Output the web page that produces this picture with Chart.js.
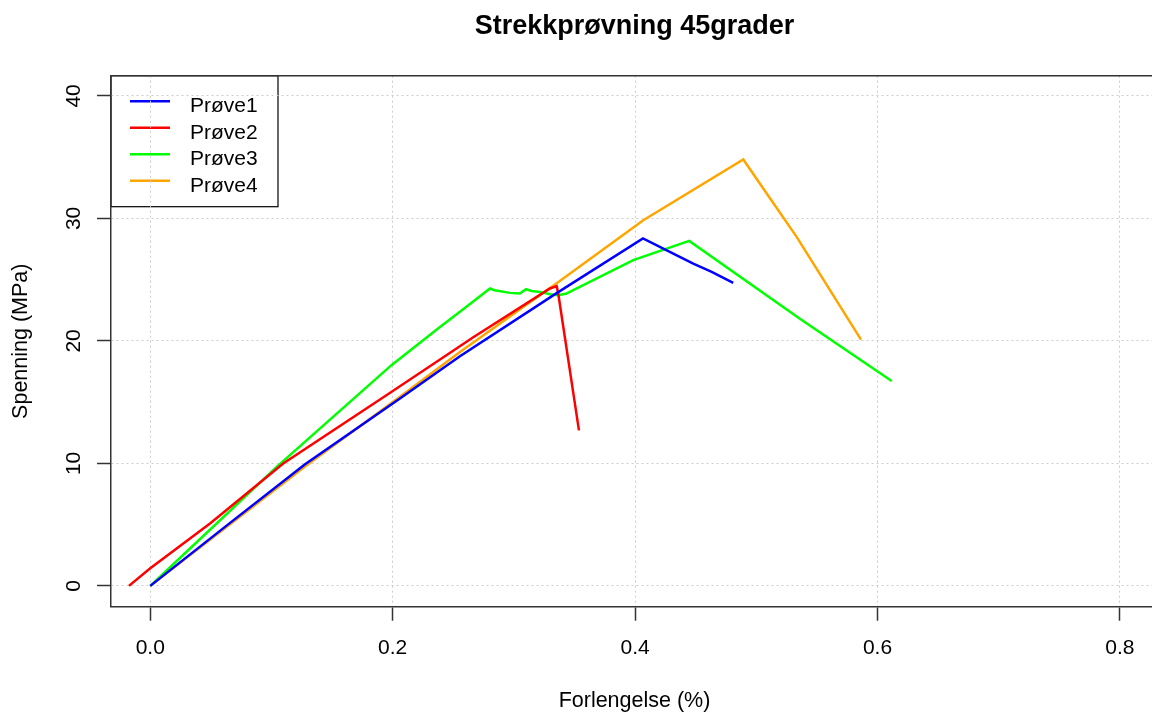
<!DOCTYPE html>
<html>
<head>
<meta charset="utf-8">
<script src="https://cdn.jsdelivr.net/npm/chart.js@4.4.0/dist/chart.umd.min.js"></script>
<style>
html,body{margin:0;padding:0;background:#fff;}
#wrap{width:1152px;height:716px;}
</style>
</head>
<body>
<div id="wrap"><canvas id="c" width="1152" height="716"></canvas></div>
<script>
// labels / ticks
const chartTitle = 'Strekkprøvning 45grader';
const xLabel = 'Forlengelse (%)';
const yLabel = 'Spenning (MPa)';
const xTicks = [0, 0.2, 0.4, 0.6, 0.8];
const yTicks = [0, 10, 20, 30, 40];
const seriesNames = ['Prøve1', 'Prøve2', 'Prøve3', 'Prøve4'];
const seriesColors = ['#0000ff', '#ff0000', '#00ff00', '#ffa500'];

// values
const p1X = [0, 0.064, 0.1277, 0.206, 0.2555, 0.3353, 0.4065, 0.4233, 0.448, 0.4632, 0.481];
const p1Y = [0, 5.0, 9.93, 15.3, 18.75, 23.9, 28.36, 27.54, 26.3, 25.63, 24.73];

const p2X = [-0.0176, 0, 0.0493, 0.1097, 0.197, 0.2505, 0.2665, 0.3298, 0.3353, 0.3366, 0.3537];
const p2Y = [0, 1.44, 5.09, 9.99, 15.7, 19.24, 20.3, 24.28, 24.47, 23.87, 12.7];

const p3X = [0, 0.0328, 0.1043, 0.199, 0.239, 0.2555, 0.2803, 0.284, 0.2968, 0.305, 0.31, 0.3147, 0.3215, 0.3298, 0.3366, 0.3436, 0.349, 0.3985, 0.4447, 0.536, 0.6117];
const p3Y = [0, 3.05, 9.71, 18.02, 21.14, 22.37, 24.28, 24.14, 23.92, 23.87, 24.22, 24.08, 24.0, 23.81, 23.73, 23.87, 24.14, 26.59, 28.16, 21.8, 16.73];

const p4X = [0, 0.129, 0.206, 0.2555, 0.3353, 0.4068, 0.4893, 0.5086, 0.5333, 0.5864];
const p4Y = [0, 9.85, 15.43, 19.1, 24.7, 29.85, 34.81, 32.03, 28.49, 20.11];

const allX = [p1X, p2X, p3X, p4X];
const allY = [p1Y, p2Y, p3Y, p4Y];

const FONT = '"Liberation Sans", Arial, sans-serif';

const datasets = seriesNames.map((name, i) => ({
  label: name,
  data: allX[i].map((x, j) => ({x: x, y: allY[i][j]})),
  borderColor: seriesColors[i],
  backgroundColor: seriesColors[i],
  borderWidth: 2.5,
  pointRadius: 0,
  showLine: true,
  fill: false,
  tension: 0
}));

// R-style frame, legend and text
const rPlot = {
  id: 'rPlot',
  beforeDraw(chart){
    const ctx = chart.ctx, a = chart.chartArea;
    // legend box (grid is drawn over it afterwards, as in R)
    const lx = a.left, ly = a.top, lw = 167, lh = 131;
    ctx.save();
    ctx.fillStyle = '#fff';
    ctx.fillRect(lx, ly, lw, lh);
    ctx.strokeStyle = '#000'; ctx.lineWidth = 1.2;
    ctx.strokeRect(lx, ly, lw, lh);
    ctx.font = '21px ' + FONT;
    ctx.textAlign = 'left'; ctx.textBaseline = 'alphabetic';
    seriesNames.forEach((n, i) => {
      const y = ly + 25.6 + i * 26.5;
      ctx.strokeStyle = seriesColors[i]; ctx.lineWidth = 2.5;
      ctx.beginPath(); ctx.moveTo(lx + 19, y); ctx.lineTo(lx + 59, y); ctx.stroke();
      ctx.fillStyle = '#000';
      ctx.fillText(n, lx + 79, y + 10.7);
    });
    ctx.restore();
  },
  afterDraw(chart){
    const ctx = chart.ctx, a = chart.chartArea;
    const xs = chart.scales.x, ys = chart.scales.y;
    ctx.save();
    // top frame line
    ctx.strokeStyle = '#333'; ctx.lineWidth = 1.5;
    ctx.beginPath(); ctx.moveTo(a.left, a.top); ctx.lineTo(a.right, a.top); ctx.stroke();

    ctx.fillStyle = '#000';
    ctx.font = '21px ' + FONT;
    ctx.textAlign = 'center'; ctx.textBaseline = 'alphabetic';
    xTicks.forEach(v => ctx.fillText(v.toFixed(1), xs.getPixelForValue(v), 654));
    yTicks.forEach(v => {
      ctx.save();
      ctx.translate(80, ys.getPixelForValue(v));
      ctx.rotate(-Math.PI / 2);
      ctx.fillText(String(v), 0, 0);
      ctx.restore();
    });

    const cx = (a.left + 1158) / 2;
    ctx.font = '21.5px ' + FONT;
    ctx.fillText(xLabel, cx, 707);
    ctx.save();
    ctx.translate(27.3, (a.top + a.bottom) / 2);
    ctx.rotate(-Math.PI / 2);
    ctx.fillText(yLabel, 0, 0);
    ctx.restore();

    ctx.font = 'bold 27px ' + FONT;
    ctx.fillText(chartTitle, cx, 34);
    ctx.restore();
  }
};

const gridOpts = {color: '#cccccc', lineWidth: 1, drawTicks: true, tickLength: 14, tickColor: '#333', tickWidth: 1.5};
const borderOpts = {display: true, color: '#333', width: 1.5, dash: [2, 3]};

new Chart(document.getElementById('c').getContext('2d'), {
  type: 'scatter',
  data: {datasets},
  options: {
    responsive: false,
    animation: false,
    devicePixelRatio: 1,
    layout: {padding: {top: 75.7, right: 0, bottom: 0, left: 0}},
    plugins: {legend: {display: false}, tooltip: {enabled: false}, title: {display: false}},
    scales: {
      x: {
        type: 'linear', min: -0.0324, max: 0.8265,
        afterBuildTicks: s => { s.ticks = xTicks.map(v => ({value: v})); },
        afterFit: s => { s.height = 109.3; },
        ticks: {display: false},
        grid: gridOpts, border: borderOpts
      },
      y: {
        type: 'linear', min: -1.7, max: 41.65,
        afterBuildTicks: s => { s.ticks = yTicks.map(v => ({value: v})); },
        afterFit: s => { s.width = 111; },
        ticks: {display: false},
        grid: gridOpts, border: borderOpts
      }
    }
  },
  plugins: [rPlot]
});
</script>
</body>
</html>
